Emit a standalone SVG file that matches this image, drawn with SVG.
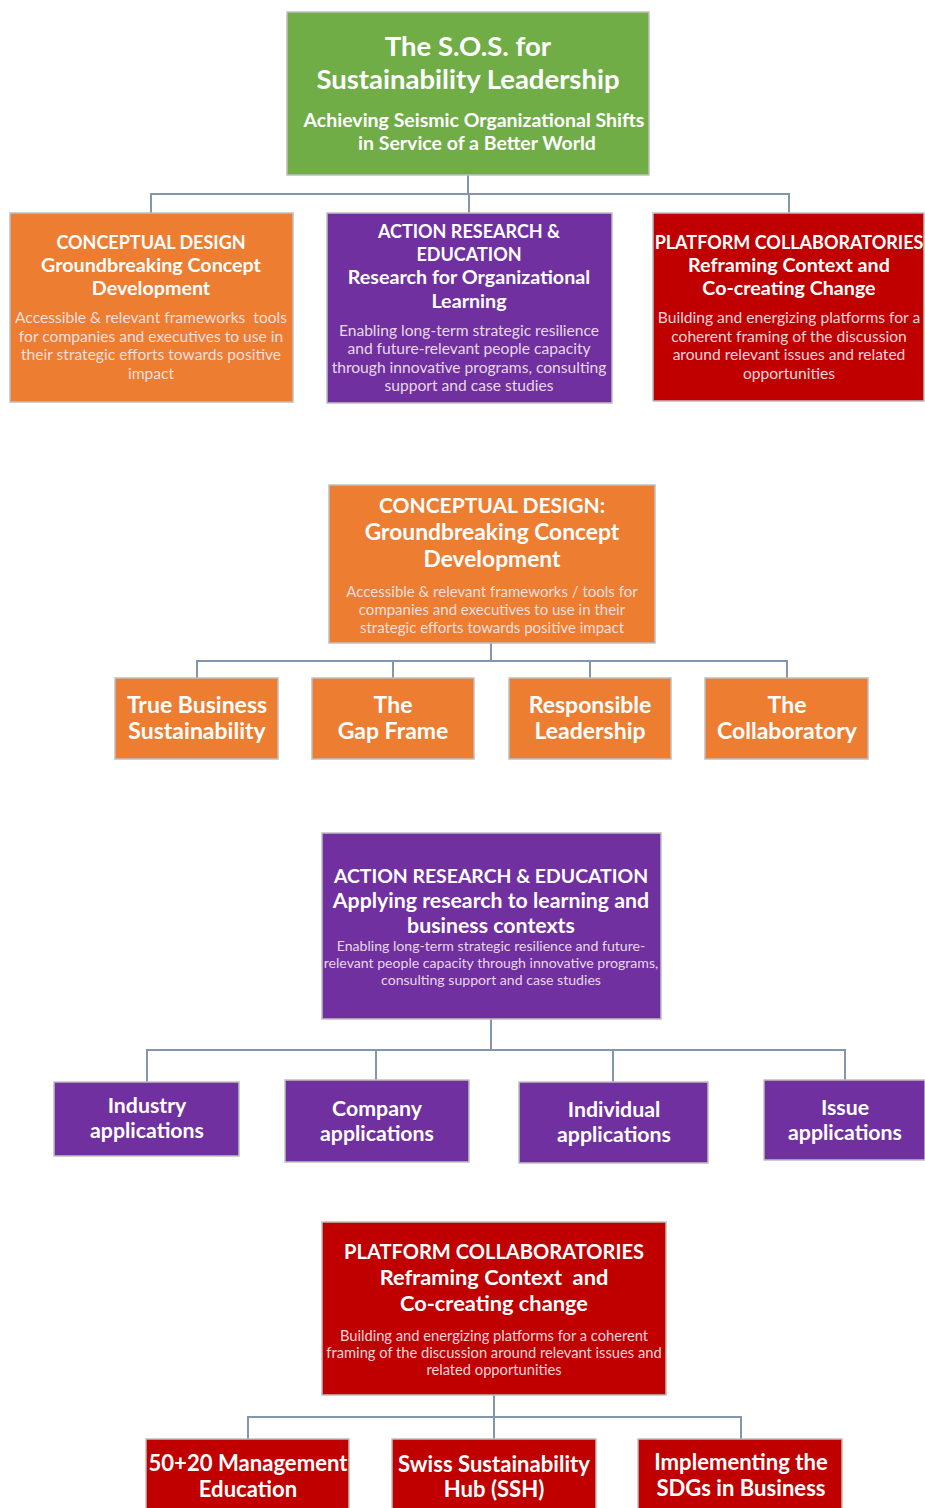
<svg xmlns="http://www.w3.org/2000/svg" width="925" height="1508" viewBox="0 0 925 1508">
<style>
.box{stroke:#bfbfbf;stroke-width:1.5}
.g{fill:#70ad47}.o{fill:#ed7d31}.p{fill:#7030a0}.r{fill:#c00000}
text{font-family:Lato,"Open Sans","Liberation Sans",sans-serif;fill:#fff;text-anchor:middle}
.t{font-weight:bold}
.d{fill:#f6e8f0;fill-opacity:0.92}
.conn{fill:none;stroke:#8496ab;stroke-width:2}
</style>
<g id="connectors" class="conn">
<path d="M468 175V194M151 213V194H789V213M469 194V213"/>
<path d="M491 643V661M197 678V661H787V678M393 661V678M590 661V678"/>
<path d="M491 1019V1050M147 1082V1050H845V1080M376 1050V1080M613 1050V1082"/>
<path d="M494 1395V1417M248 1439V1417H741V1439M494 1417V1439"/>
</g>
<g id="root">
<rect class="box g" x="287" y="12" width="362" height="163"/>
<text class="t" font-size="27.5" x="468" y="56">The S.O.S. for</text>
<text class="t" font-size="27.5" x="468" y="89">Sustainability Leadership</text>
<text class="t" font-size="19.5" x="474" y="127">Achieving Seismic Organizational Shifts</text>
<text class="t" font-size="19.5" x="477" y="150">in Service of a Better World</text>
</g>
<g id="cd-top">
<rect class="box o" x="10" y="213" width="283" height="189"/>
<text class="t" font-size="18" x="151" y="249">CONCEPTUAL DESIGN</text>
<text class="t" font-size="19.7" x="151" y="272">Groundbreaking Concept</text>
<text class="t" font-size="19.7" x="151" y="295">Development</text>
<text class="d" font-size="15.6" x="151" y="323" xml:space="preserve">Accessible &amp; relevant frameworks  tools</text>
<text class="d" font-size="15.6" x="151" y="342">for companies and executives to use in</text>
<text class="d" font-size="15.6" x="151" y="360">their strategic efforts towards positive</text>
<text class="d" font-size="15.6" x="151" y="379">impact</text>
</g>
<g id="are-top">
<rect class="box p" x="327" y="213" width="285" height="190"/>
<text class="t" font-size="18" x="469" y="238">ACTION RESEARCH &amp;</text>
<text class="t" font-size="18" x="469" y="261">EDUCATION</text>
<text class="t" font-size="19.7" x="469" y="284">Research for Organizational</text>
<text class="t" font-size="19.7" x="469" y="308">Learning</text>
<text class="d" font-size="15.6" x="469" y="336">Enabling long-term strategic resilience</text>
<text class="d" font-size="15.6" x="469" y="354">and future-relevant people capacity</text>
<text class="d" font-size="15.6" x="469" y="373">through innovative programs, consulting</text>
<text class="d" font-size="15.6" x="469" y="391">support and case studies</text>
</g>
<g id="pc-top">
<rect class="box r" x="653" y="213" width="271" height="188"/>
<text class="t" font-size="18" x="789" y="249">PLATFORM COLLABORATORIES</text>
<text class="t" font-size="19.7" x="789" y="272">Reframing Context and</text>
<text class="t" font-size="19.7" x="789" y="295">Co-creating Change</text>
<text class="d" font-size="15.6" x="789" y="323">Building and energizing platforms for a</text>
<text class="d" font-size="15.6" x="789" y="342">coherent framing of the discussion</text>
<text class="d" font-size="15.6" x="789" y="360">around relevant issues and related</text>
<text class="d" font-size="15.6" x="789" y="379">opportunities</text>
</g>
<g id="cd-main">
<rect class="box o" x="329" y="485" width="326" height="158"/>
<text class="t" font-size="21" x="492" y="513">CONCEPTUAL DESIGN:</text>
<text class="t" font-size="22.8" x="492" y="540">Groundbreaking Concept</text>
<text class="t" font-size="22.8" x="492" y="567">Development</text>
<text class="d" font-size="15" x="492" y="597">Accessible &amp; relevant frameworks / tools for</text>
<text class="d" font-size="15" x="492" y="615">companies and executives to use in their</text>
<text class="d" font-size="15" x="492" y="633">strategic efforts towards positive impact</text>
</g>
<g id="tbs">
<rect class="box o" x="115" y="678" width="163" height="81"/>
<text class="t" font-size="23" x="197" y="713">True Business</text>
<text class="t" font-size="23" x="197" y="739">Sustainability</text>
</g>
<g id="gap">
<rect class="box o" x="312" y="678" width="162" height="81"/>
<text class="t" font-size="23" x="393" y="713">The</text>
<text class="t" font-size="23" x="393" y="739">Gap Frame</text>
</g>
<g id="rl">
<rect class="box o" x="509" y="678" width="162" height="81"/>
<text class="t" font-size="23" x="590" y="713">Responsible</text>
<text class="t" font-size="23" x="590" y="739">Leadership</text>
</g>
<g id="collab">
<rect class="box o" x="705" y="678" width="163" height="81"/>
<text class="t" font-size="23" x="787" y="713">The</text>
<text class="t" font-size="23" x="787" y="739">Collaboratory</text>
</g>
<g id="are-main">
<rect class="box p" x="322" y="833" width="339" height="186"/>
<text class="t" font-size="19.4" x="491" y="883">ACTION RESEARCH &amp; EDUCATION</text>
<text class="t" font-size="21.3" x="491" y="908">Applying research to learning and</text>
<text class="t" font-size="21.3" x="491" y="933">business contexts</text>
<text class="d" font-size="14.1" x="491" y="951">Enabling long-term strategic resilience and future-</text>
<text class="d" font-size="14.1" x="491" y="968">relevant people capacity through innovative programs,</text>
<text class="d" font-size="14.1" x="491" y="985">consulting support and case studies</text>
</g>
<g id="industry">
<rect class="box p" x="54" y="1082" width="185" height="74"/>
<text class="t" font-size="21.3" x="147" y="1113">Industry</text>
<text class="t" font-size="21.3" x="147" y="1138">applications</text>
</g>
<g id="company">
<rect class="box p" x="285" y="1080" width="184" height="82"/>
<text class="t" font-size="21.3" x="377" y="1116">Company</text>
<text class="t" font-size="21.3" x="377" y="1141">applications</text>
</g>
<g id="individual">
<rect class="box p" x="519" y="1082" width="189" height="81"/>
<text class="t" font-size="21.3" x="614" y="1117">Individual</text>
<text class="t" font-size="21.3" x="614" y="1142">applications</text>
</g>
<g id="issue">
<rect class="box p" x="764" y="1080" width="161" height="80"/>
<text class="t" font-size="21.3" x="845" y="1115">Issue</text>
<text class="t" font-size="21.3" x="845" y="1140">applications</text>
</g>
<g id="pc-main">
<rect class="box r" x="322" y="1222" width="344" height="173"/>
<text class="t" font-size="20.1" x="494" y="1259">PLATFORM COLLABORATORIES</text>
<text class="t" font-size="21.8" x="494" y="1285" xml:space="preserve">Reframing Context  and</text>
<text class="t" font-size="21.8" x="494" y="1311">Co-creating change</text>
<text class="d" font-size="14.7" x="494" y="1341">Building and energizing platforms for a coherent</text>
<text class="d" font-size="14.7" x="494" y="1358">framing of the discussion around relevant issues and</text>
<text class="d" font-size="14.7" x="494" y="1375">related opportunities</text>
</g>
<g id="fifty">
<rect class="box r" x="146" y="1439" width="203" height="75"/>
<text class="t" font-size="22.1" x="248" y="1471">50+20 Management</text>
<text class="t" font-size="22.1" x="248" y="1497">Education</text>
</g>
<g id="ssh">
<rect class="box r" x="392" y="1439" width="204" height="75"/>
<text class="t" font-size="22.1" x="494" y="1472">Swiss Sustainability</text>
<text class="t" font-size="22.1" x="494" y="1497">Hub (SSH)</text>
</g>
<g id="sdg">
<rect class="box r" x="638" y="1439" width="204" height="75"/>
<text class="t" font-size="22.1" x="741" y="1470">Implementing the</text>
<text class="t" font-size="22.1" x="741" y="1496">SDGs in Business</text>
</g>
</svg>
